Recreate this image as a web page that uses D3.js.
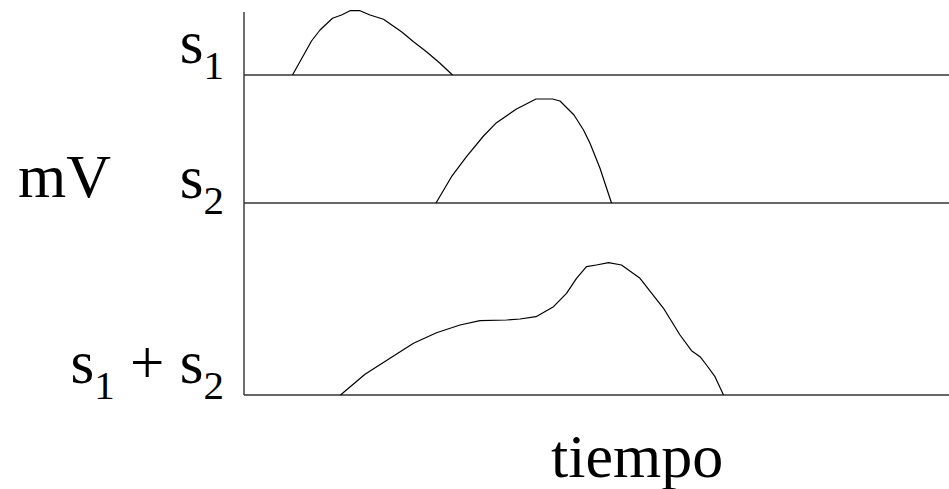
<!DOCTYPE html>
<html><head><meta charset="utf-8"><script src="https://cdn.jsdelivr.net/npm/d3@7"></script></head>
<body style="margin:0">
<svg id="chart" width="949" height="489" style="display:block"></svg>
<script>
// Time values (arbitrary units) and amplitudes (mV, arbitrary units)
const s1Time = [9.7, 13.5, 15.2, 17.7, 19.5, 21.2, 23.2, 25.2, 27.9, 31.5, 33.9, 36.5, 39.2, 41.7];
const s1Value = [0, 3.4, 4.5, 5.67, 6.0, 6.43, 6.43, 6.0, 5.57, 4.33, 3.33, 2.33, 1.17, 0];

const s2Time = [38.4, 41.5, 44.5, 47.9, 50.5, 54.5, 58.4, 61.7, 63.2, 66.0, 67.9, 69.2, 71.2, 73.5];
const s2Value = [0, 2.63, 4.63, 6.7, 8.03, 9.4, 10.4, 10.4, 10.2, 8.8, 7.3, 5.97, 3.47, 0];

const sumTime = [19.3, 24.2, 29.2, 33.9, 38.5, 43.2, 47.2, 52.5, 55.2, 58.4, 61.9, 64.5, 66.5, 68.5, 70.5, 72.9, 75.5, 79.2, 83.9, 87.2, 89.5, 91.2, 92.5, 94.2, 95.9];
const sumValue = [0, 2.07, 3.67, 5.17, 6.23, 7.0, 7.43, 7.5, 7.6, 7.83, 8.83, 10.17, 11.67, 12.83, 13.0, 13.23, 13.0, 11.67, 8.67, 6.0, 4.43, 3.83, 3.0, 1.83, 0];

const seriesNames = [["s", "1"], ["s", "2"], ["s", "1", " + ", "s", "2"]];
const yLabel = "mV";
const xLabel = "tiempo";

const FONT = '"Liberation Serif"';

const svg = d3.select("#chart");
const axisX = 244, axisTop = 12;
const baselines = [75, 203, 395];

const x = d3.scaleLinear().domain([0, 141]).range([axisX, 949]);
const yScales = baselines.map(b => d3.scaleLinear().domain([0, 10]).range([b, b - 100]));

// axes
svg.append("line")
  .attr("x1", axisX).attr("x2", axisX)
  .attr("y1", axisTop).attr("y2", baselines[2])
  .attr("stroke", "#333").attr("stroke-width", 1.4);
baselines.forEach(b => {
  svg.append("line")
    .attr("x1", axisX).attr("x2", 949)
    .attr("y1", b).attr("y2", b)
    .attr("stroke", "#333").attr("stroke-width", 1.4);
});

// curves
const series = [
  [s1Time, s1Value],
  [s2Time, s2Value],
  [sumTime, sumValue]
];
series.forEach(([t, v], i) => {
  const data = t.map((d, k) => [d, v[k]]);
  const line = d3.line()
    .x(d => x(d[0]))
    .y(d => yScales[i](d[1]))
    .curve(d3.curveLinear);
  svg.append("path")
    .datum(data)
    .attr("d", line)
    .attr("fill", "none")
    .attr("stroke", "#000")
    .attr("stroke-width", 1.2)
    .attr("stroke-linejoin", "round");
});

// series labels with subscripts
const labelBaselines = [63, 198, 383];
seriesNames.forEach((parts, i) => {
  const txt = svg.append("text")
    .attr("x", 224)
    .attr("y", labelBaselines[i])
    .attr("text-anchor", "end")
    .style("font-size", "61px")
    .style("font-family", FONT);
  let sub = false;
  parts.forEach(p => {
    const isSub = /^\d$/.test(p);
    const ts = txt.append("tspan").text(p);
    if (isSub) ts.style("font-size", "41px");
    if (isSub && !sub) { ts.attr("dy", 16); sub = true; }
    else if (!isSub && sub) { ts.attr("dy", -16); sub = false; }
  });
  txt.node().getComputedTextLength();
});

const yl = svg.append("text")
  .attr("x", 18).attr("y", 197)
  .style("font-size", "62px")
  .style("font-family", FONT)
  .text(yLabel);
yl.node().getComputedTextLength();

const xl = svg.append("text")
  .attr("x", 551).attr("y", 477)
  .style("font-size", "62px")
  .style("font-family", FONT)
  .text(xLabel);
xl.node().getComputedTextLength();
</script></body></html>
